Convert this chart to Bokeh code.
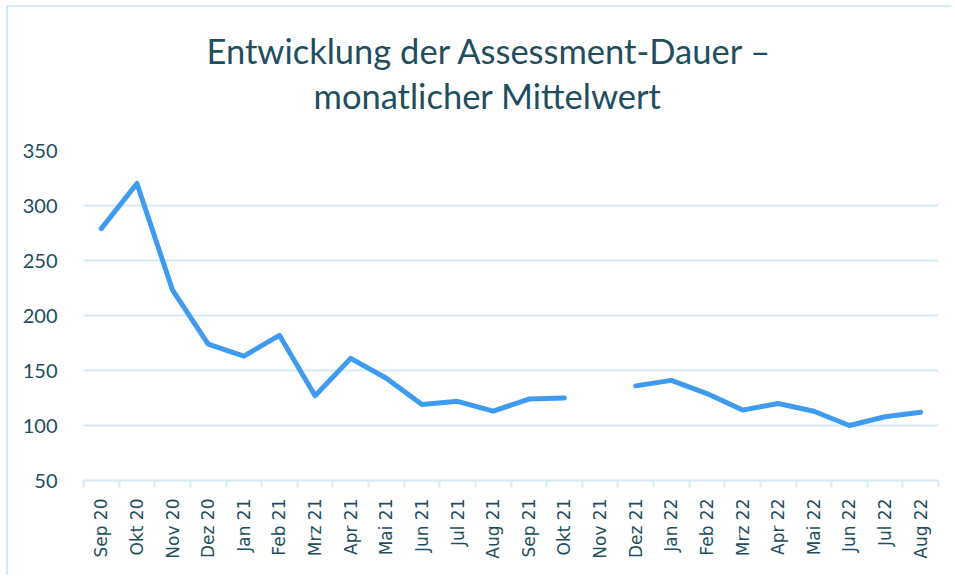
from bokeh.plotting import figure
from bokeh.models import FixedTicker, Range1d, Title
from bokeh.embed import file_html
from bokeh.resources import INLINE
import numpy as np

months = ["Sep 20", "Okt 20", "Nov 20", "Dez 20", "Jan 21", "Feb 21", "Mrz 21", "Apr 21",
          "Mai 21", "Jun 21", "Jul 21", "Aug 21", "Sep 21", "Okt 21", "Nov 21", "Dez 21",
          "Jan 22", "Feb 22", "Mrz 22", "Apr 22", "Mai 22", "Jun 22", "Jul 22", "Aug 22"]
dauer = [279, 320, 223, 174, 163, 182, 127, 161, 143, 119, 122, 113, 124, 125, None, 136,
         141, 129, 114, 120, 113, 100, 108, 112]
y_ticks = [50, 100, 150, 200, 250, 300, 350]
title_lines = ["Entwicklung der Assessment-Dauer –", "monatlicher Mittelwert"]

TEXT = "#1F4E5E"
GRID = "#D5EAF4"

xs = list(range(len(months)))
ys = [np.nan if v is None else v for v in dauer]

p = figure(width=945, height=570, output_backend="svg", toolbar_location=None,
           x_range=Range1d(-0.5, len(months) - 0.5), y_range=Range1d(y_ticks[0], y_ticks[-1]),
           min_border_left=75, min_border_right=15, min_border_top=143, min_border_bottom=97)
p.margin = (5, 0, 0, 6)
p.styles = {"border-left": "2px solid #D5EAF4", "border-top": "2px solid #D5EAF4"}
p.outline_line_color = None
p.background_fill_color = "white"
p.border_fill_color = "white"

p.line(xs, ys, line_color="#3F9BF0", line_width=5, line_cap="round", line_join="round")

# x axis
p.xaxis.ticker = FixedTicker(ticks=xs, minor_ticks=[i - 0.5 for i in range(len(months) + 1)])
p.xaxis.major_label_overrides = {i: m for i, m in enumerate(months)}
p.xaxis.major_label_orientation = np.pi / 2
p.xaxis.major_tick_out = 0
p.xaxis.major_tick_in = 0
p.xaxis.minor_tick_out = 7
p.xaxis.minor_tick_in = 0
p.xaxis.minor_tick_line_color = GRID
p.xaxis.minor_tick_line_width = 2
p.xaxis.axis_line_color = GRID
p.xaxis.axis_line_width = 2
p.xaxis.major_label_text_font = "DejaVu Sans"
p.xaxis.major_label_text_font_size = "17px"
p.xaxis.major_label_text_color = TEXT
p.xaxis.major_label_standoff = 11
p.xgrid.grid_line_color = None

# y axis
p.yaxis.ticker = FixedTicker(ticks=y_ticks)
p.yaxis.axis_line_color = None
p.yaxis.major_tick_line_color = None
p.yaxis.minor_tick_line_color = None
p.yaxis.major_label_text_font = "Lato"
p.yaxis.major_label_text_font_size = "20px"
p.yaxis.major_label_text_color = TEXT
p.yaxis.major_label_standoff = 20
p.ygrid.grid_line_color = GRID
p.ygrid.grid_line_width = 2

# title: spacer (nearest the plot), then line 2, then line 1
p.add_layout(Title(text=" ", text_font_size="1px", standoff=32), "above")
p.add_layout(Title(text=title_lines[1], align="left", offset=230, standoff=0,
                   text_font="Lato", text_font_size="34.5px", text_font_style="normal",
                   text_color=TEXT), "above")
p.add_layout(Title(text=title_lines[0], align="left", offset=123, standoff=3,
                   text_font="Lato", text_font_size="34.5px", text_font_style="normal",
                   text_color=TEXT), "above")

open("out.html", "w").write(file_html(p, INLINE))
